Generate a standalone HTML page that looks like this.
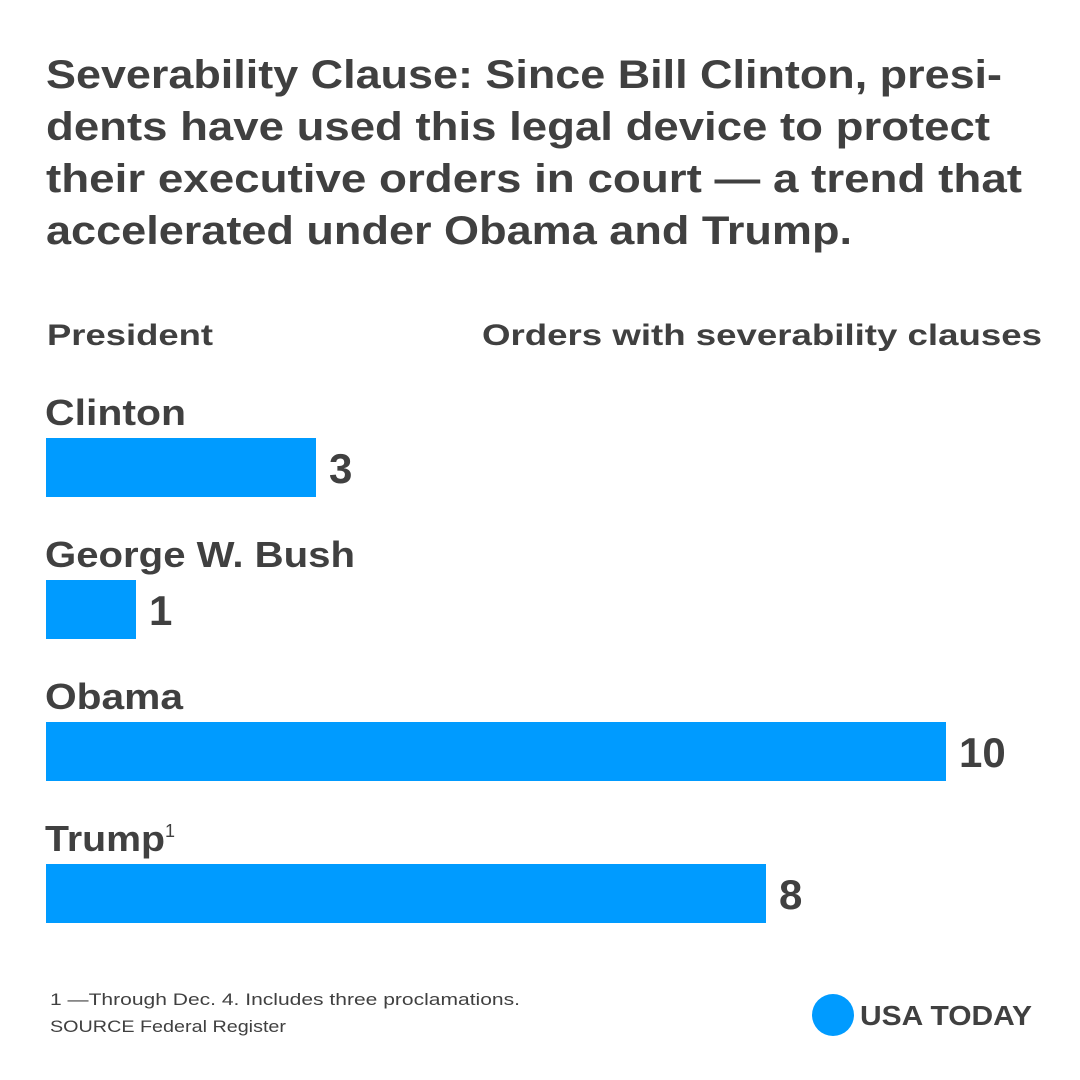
<!DOCTYPE html>
<html><head><meta charset="utf-8"><style>
html,body{margin:0;padding:0;background:#fff;}
svg{display:block;}
text{font-family:"Liberation Sans",sans-serif;fill:#404040;font-weight:bold;}
</style></head><body>
<svg id="chart" width="1080" height="1080" viewBox="0 0 1080 1080">
<rect width="1080" height="1080" fill="#fff"/>
<g>
<text x="46" y="88" font-size="40" textLength="956" lengthAdjust="spacingAndGlyphs">Severability Clause: Since Bill Clinton, presi-</text>
<text x="46" y="140" font-size="40" textLength="944" lengthAdjust="spacingAndGlyphs">dents have used this legal device to protect</text>
<text x="46" y="192" font-size="40" textLength="976" lengthAdjust="spacingAndGlyphs">their executive orders in court — a trend that</text>
<text x="46" y="244" font-size="40" textLength="806" lengthAdjust="spacingAndGlyphs">accelerated under Obama and Trump.</text>
</g>
<text x="47" y="345" font-size="30" textLength="166" lengthAdjust="spacingAndGlyphs">President</text>
<text x="482" y="345" font-size="30" textLength="560" lengthAdjust="spacingAndGlyphs">Orders with  severability clauses</text>
<g id="bars"></g>
<g>
<text x="50" y="1005" font-size="17" style="font-weight:normal" textLength="470" lengthAdjust="spacingAndGlyphs">1 —Through Dec. 4. Includes three proclamations.</text>
<text x="50" y="1032" font-size="17" style="font-weight:normal" textLength="236" lengthAdjust="spacingAndGlyphs">SOURCE Federal Register</text>
</g>
<g>
<circle cx="833" cy="1015" r="21" fill="#009bff"/>
<text x="860" y="1025" font-size="28" textLength="172" lengthAdjust="spacingAndGlyphs">USA TODAY</text>
</g>
</svg>
<script>
const categories = ["Clinton", "George W. Bush", "Obama", "Trump"];
const values = [3, 1, 10, 8];
const valueLabels = ["3", "1", "10", "8"];
const labelWidths = [141, 310, 138, 120];
const NS = "http://www.w3.org/2000/svg";
const x0 = 46, unit = 90;
function xScale(v){ return x0 + v * unit; }
function rowY(i){ return 438 + i * 142; }
const g = document.getElementById("bars");
categories.forEach((c, i) => {
  const y = rowY(i);
  const lab = document.createElementNS(NS, "text");
  lab.setAttribute("x", 45); lab.setAttribute("y", y - 13);
  lab.setAttribute("font-size", "36");
  
  
  const main = document.createElementNS(NS, "tspan");
  main.textContent = c;
  main.setAttribute("textLength", labelWidths[i]);
  main.setAttribute("lengthAdjust", "spacingAndGlyphs");
  lab.appendChild(main);
  if (c === "Trump") {
    const sup = document.createElementNS(NS, "tspan");
    sup.setAttribute("font-size", "18"); sup.setAttribute("dy", "-14");
    sup.setAttribute("style", "font-weight:normal");
    sup.textContent = "1";
    lab.appendChild(sup);
  }
  g.appendChild(lab);
  const r = document.createElementNS(NS, "rect");
  r.setAttribute("x", x0); r.setAttribute("y", y);
  r.setAttribute("width", xScale(values[i]) - x0); r.setAttribute("height", 59);
  r.setAttribute("fill", "#009bff");
  
  
  g.appendChild(r);
  const v = document.createElementNS(NS, "text");
  v.setAttribute("x", xScale(values[i]) + 13); v.setAttribute("y", y + 45);
  v.setAttribute("font-size", "42");
  v.textContent = valueLabels[i];
  
  
  g.appendChild(v);
});
</script>
</body></html>
